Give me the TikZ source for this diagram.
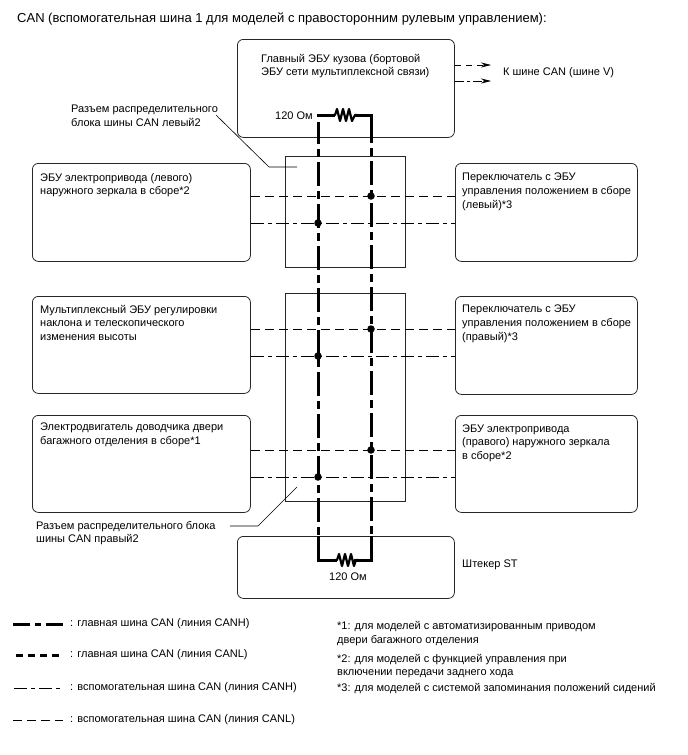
\documentclass[tikz,border=0pt]{standalone}
\usepackage{fontspec}
\setmainfont{Liberation Sans}
\usetikzlibrary{arrows.meta}
\tikzset{
 ecu/.style={draw=black!85,line width=0.8pt,rounded corners=6pt,inner sep=0pt,anchor=north west},
 conn/.style={draw=black!85,line width=0.8pt,inner sep=0pt,anchor=north west},
 lbl/.style={inner sep=0pt,align=left,anchor=north west,font=\fontsize{11}{13.6}\selectfont},
 mainline/.style={line width=3pt},
 mainH/.style={line width=3pt,dash pattern=on 24pt off 5pt on 8pt off 5pt},
 legH/.style={line width=3pt,dash pattern=on 17pt off 5pt on 6pt off 5pt},
 legL/.style={line width=3pt,dash pattern=on 7pt off 5pt},
 subH/.style={line width=0.8pt,dash pattern=on 13pt off 4pt on 4pt off 4pt},
 subL/.style={line width=0.8pt,dash pattern=on 9pt off 5pt},
 dotj/.style={circle,fill=black,inner sep=0pt,minimum size=7.5pt},
 res/.style={line width=2.2pt,line join=round},
 lead/.style={line width=0.6pt},
 arr/.style={-{Stealth[length=10pt,width=5pt]},line width=0.7pt},
}
\newcommand{\ecubox}[5]{\node[ecu,minimum width=#4pt,minimum height=#5pt] (#1) at (#2,#3) {};}
\newcommand{\connbox}[5]{\node[conn,minimum width=#4pt,minimum height=#5pt] (#1) at (#2,#3) {};}
\begin{document}
\begin{tikzpicture}[x=1pt,y=-1pt]
\useasboundingbox (0,0) rectangle (688,755);
\node[lbl,font=\fontsize{13}{15}\selectfont] (title) at (17,13) {CAN (вспомогательная шина 1 для моделей с правосторонним рулевым управлением):};
% boxes
\ecubox{main}{237}{39}{217}{98}
\ecubox{st}{237}{536}{217}{62}
\ecubox{la}{32}{163}{218}{98}
\ecubox{lb}{32}{296}{218}{97}
\ecubox{lc}{32}{415}{218}{97}
\ecubox{ra}{455}{163}{182}{98}
\ecubox{rb}{455}{296}{182}{98}
\ecubox{rc}{455}{415}{182}{97}
\connbox{ca}{285}{156}{120}{111}
\connbox{cb}{285}{293}{120}{208}
% sub bus
\draw[subL] (la.east |- 0,196) -- (ra.west |- 0,196);
\draw[subH] (la.east |- 0,223) -- (ra.west |- 0,223);
\draw[subL] (lb.east |- 0,329) -- (rb.west |- 0,329);
\draw[subH] (lb.east |- 0,356) -- (rb.west |- 0,356);
\draw[subL] (lc.east |- 0,450) -- (rc.west |- 0,450);
\draw[subH] (lc.east |- 0,477) -- (rc.west |- 0,477);
% main bus
\coordinate (tl) at (318,115); \coordinate (tr) at (371,115);
\coordinate (bl) at (318,560); \coordinate (br) at (371,560);
\coordinate (lstart) at (318,122); \coordinate (lend) at (318,536);
\coordinate (rstart) at (371,137); \coordinate (rend) at (371,536);
\draw[mainH,dash phase=2pt] (lstart) -- (lend);
\draw[mainH,dash phase=18pt] (rstart) -- (rend);
\draw[mainline] (rstart) -- (tr) -- (355,115);
\draw[mainline] (316.5,115) -- (335,115);
\draw[mainline] (lend) -- (bl) -- (337,560);
\draw[mainline] (rend) -- (br) -- (354,560);
\draw[res] (333,115) -- (335,115) -- (337,109) -- (340,121) -- (343,109) -- (346,121) -- (349,109) -- (352,121) -- (355,115) -- (357,115);
\draw[res] (335,560) -- (337,560) -- (339,554) -- (342,566) -- (345,554) -- (348,566) -- (351,554) -- (354,566) -- (356,560) -- (358,560);
\foreach \x/\y in {371/196,318/223,371/329,318/356,371/450,318/477} \node[dotj] at (\x,\y) {};
% text
\node[lbl] (tmain) at (261,54) {Главный ЭБУ кузова (бортовой\\ЭБУ сети мультиплексной связи)};
\node[lbl] (tbus) at (503,67) {К шине CAN (шине V)};
\node[lbl,anchor=west] (rtop) at (275,116) {120 Ом};
\node[lbl,anchor=north] (rbot) at (348,573) {120 Ом};
\node[lbl] (tca) at (71,105) {Разъем распределительного\\блока шины CAN левый2};
\node[lbl] (tla) at (40,173) {ЭБУ электропривода (левого)\\наружного зеркала в сборе*2};
\node[lbl] (tra) at (462,173) {Переключатель с ЭБУ\\управления положением в сборе\\(левый)*3};
\node[lbl] (tlb) at (40,305) {Мультиплексный ЭБУ регулировки\\наклона и телескопического\\изменения высоты};
\node[lbl] (trb) at (462,305) {Переключатель с ЭБУ\\управления положением в сборе\\(правый)*3};
\node[lbl] (tlc) at (40,423) {Электродвигатель доводчика двери\\багажного отделения в сборе*1};
\node[lbl] (trc) at (462,424.5) {ЭБУ электропривода\\(правого) наружного зеркала\\в сборе*2};
\node[lbl] (tcc) at (36,521) {Разъем распределительного блока\\шины CAN правый2};
\node[lbl] (tst) at (462,560) {Штекер ST};
% leaders
\coordinate (lda) at (297,167); \coordinate (ldb) at (297,487);
\coordinate (lsa) at (216,115); \coordinate (lsb) at (230,526);
\draw[lead] (lsa) -- (269,167) -- (lda);
\draw[lead] (ldb) -- (258,526) -- (lsb);
% arrows
\coordinate (arrA) at (491,65); \coordinate (arrB) at (491,81);
\draw[arr,dash pattern=on 6pt off 5pt] (main.east |- 0,65) -- (arrA);
\draw[arr,dash pattern=on 9pt off 3pt on 3pt off 3pt] (main.east |- 0,81) -- (arrB);
% legend
\node[lbl] (k1) at (70,618) {: главная шина CAN (линия CANH)};
\node[lbl] (k2) at (70,649) {: главная шина CAN (линия CANL)};
\node[lbl] (k3) at (70,682) {: вспомогательная шина CAN (линия CANH)};
\node[lbl] (k4) at (70,714) {: вспомогательная шина CAN (линия CANL)};
\coordinate (e1) at (63,624); \coordinate (e2) at (63,655); \coordinate (e3) at (63,688); \coordinate (e4) at (63,720);
\coordinate (s1) at (13,624); \coordinate (s2) at (16,655); \coordinate (s3) at (14,688); \coordinate (s4) at (13,720);
\draw[legH] (s1) -- (e1);
\draw[legL] (s2) -- (e2);
\draw[subH] (s3) -- (e3);
\draw[subL] (s4) -- (e4);
\node[lbl] (n1) at (337,621.5) {*1: для моделей с автоматизированным приводом\\двери багажного отделения};
\node[lbl] (n2) at (337,654) {*2: для моделей с функцией управления при\\включении передачи заднего хода};
\node[lbl] (n3) at (337,683) {*3: для моделей с системой запоминания положений сидений};
\end{tikzpicture}
\end{document}
